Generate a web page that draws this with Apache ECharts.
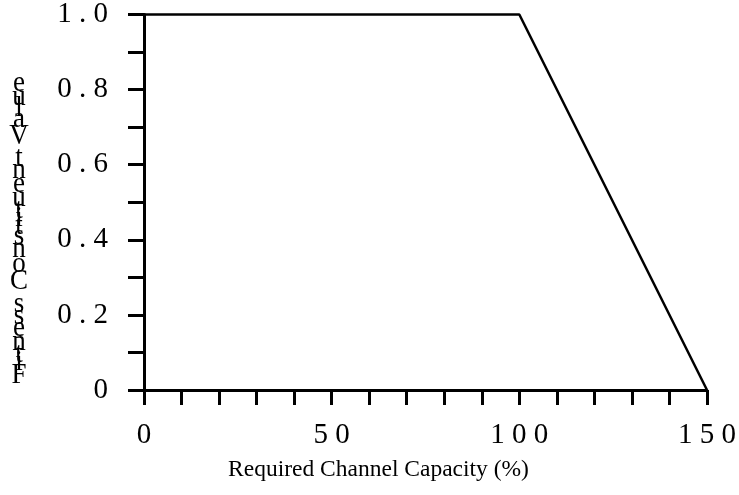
<!DOCTYPE html>
<html>
<head>
<meta charset="utf-8">
<script src="https://cdn.jsdelivr.net/npm/echarts@6/dist/echarts.min.js"></script>
<style>
html,body{margin:0;padding:0;background:#fff;}
#chart{width:739px;height:495px;}
</style>
</head>
<body>
<div id="chart"></div>
<script>
// ---- data ----
const capacityX = [0, 100, 150];
const fitnessY = [1.0, 1.0, 0.0];
const xTickValues = [0, 50, 100, 150];
const xTickLabels = ['0', '5 0', '1 0 0', '1 5 0'];
const yTickValues = [0, 0.2, 0.4, 0.6, 0.8, 1.0];
const yTickLabels = ['0', '0 . 2', '0 . 4', '0 . 6', '0 . 8', '1 . 0'];
const xAxisTitle = 'Required Channel Capacity (%)';
const yAxisTitle = 'Fitness Constituent Value';

const FONT = '"Liberation Serif", "Times New Roman", serif';

function lookup(values, labels, v) {
  for (let i = 0; i < values.length; i++) {
    if (Math.abs(values[i] - v) < 1e-6) return labels[i];
  }
  return '';
}

// stacked upright letters for the y-axis title (reads bottom to top)
function buildYTitle() {
  const fs = 27, vScale = 1.1, startY = 383, cx = 19;
  const c = document.createElement('canvas').getContext('2d');
  c.font = fs + 'px ' + FONT;
  const els = [];
  let cum = 0;
  for (const ch of yAxisTitle) {
    const adv = c.measureText(ch).width;
    if (ch !== ' ') {
      els.push({
        type: 'text',
        x: cx,
        y: startY - (cum + adv / 2) * vScale,
        scaleY: vScale,
        style: {
          text: ch,
          font: fs + 'px ' + FONT,
          fill: '#000',
          textAlign: 'center',
          textVerticalAlign: 'middle'
        }
      });
    }
    cum += adv;
  }
  return els;
}

const chart = echarts.init(document.getElementById('chart'), null, {renderer: 'canvas'});
const axisLineStyle = {color: '#000', width: 3};

chart.setOption({
  animation: false,
  backgroundColor: '#fff',
  grid: {left: 144, right: 28, top: 12, bottom: 105, containLabel: false},
  xAxis: {
    type: 'value',
    min: 0, max: 150, interval: 50,
    axisLine: {show: true, onZero: false, lineStyle: axisLineStyle},
    axisTick: {show: true, inside: false, length: 15, lineStyle: axisLineStyle},
    minorTick: {show: true, splitNumber: 5, length: 15, lineStyle: axisLineStyle},
    splitLine: {show: false},
    minorSplitLine: {show: false},
    axisLabel: {
      margin: 31,
      fontFamily: FONT, fontSize: 29, color: '#000',
      formatter: v => lookup(xTickValues, xTickLabels, v)
    },
    name: xAxisTitle,
    nameLocation: 'middle',
    nameGap: 68,
    nameTextStyle: {fontFamily: FONT, fontSize: 23.5, color: '#000', padding: [0, 94, 0, 0]}
  },
  yAxis: {
    type: 'value',
    min: 0, max: 1, interval: 0.2,
    axisLine: {show: true, onZero: false, lineStyle: axisLineStyle},
    axisTick: {show: true, inside: false, length: 16, lineStyle: axisLineStyle},
    minorTick: {show: true, splitNumber: 2, length: 16, lineStyle: axisLineStyle},
    splitLine: {show: false},
    minorSplitLine: {show: false},
    axisLabel: {
      margin: 36,
      fontFamily: FONT, fontSize: 29, color: '#000',
      formatter: v => lookup(yTickValues, yTickLabels, v)
    }
  },
  series: [{
    type: 'line',
    data: capacityX.map((x, i) => [x, fitnessY[i]]),
    showSymbol: false,
    symbol: 'none',
    clip: false,
    lineStyle: {color: '#000', width: 2.5},
    z: 1
  }],
  graphic: buildYTitle()
});
</script>
</body>
</html>
